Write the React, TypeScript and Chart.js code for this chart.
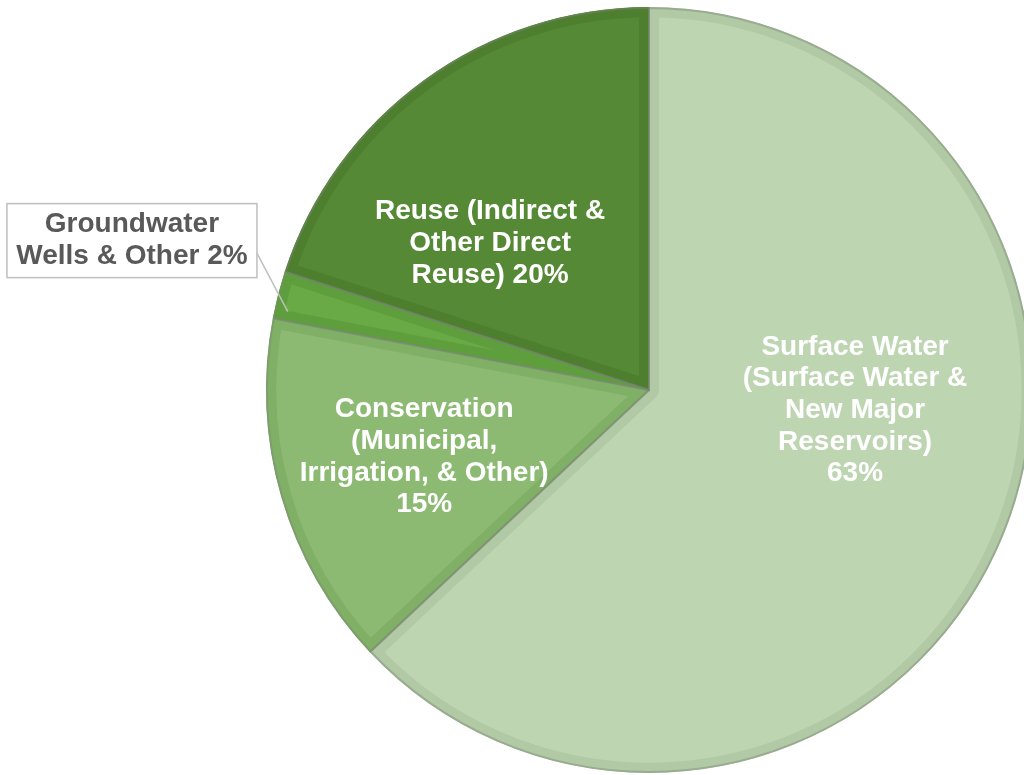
import React, { useEffect, useRef } from "react";
import { Chart, registerables } from "chart.js";

Chart.register(...registerables);

const categories = [
  "Surface Water (Surface Water & New Major Reservoirs)",
  "Conservation (Municipal, Irrigation, & Other)",
  "Groundwater Wells & Other",
  "Reuse (Indirect & Other Direct Reuse)",
];
const shares = [63, 15, 2, 20];
const labelLines = [
  ["Surface Water", "(Surface Water &", "New Major", "Reservoirs)", "{p}"],
  ["Conservation", "(Municipal,", "Irrigation, & Other)", "{p}"],
  ["Groundwater", "Wells & Other {p}"],
  ["Reuse (Indirect &", "Other Direct", "Reuse) {p}"],
];

const fillColors = ["#BED5B2", "#8DBA73", "#6AAA46", "#558935"];
const bandColors = ["#B1C9A4", "#80AF66", "#5E9E3D", "#4D7F2F"];

// label centres, in units of the pie radius from the pie centre
const labelOffsets = [
  { fx: 0.538, fy: 0.053 },
  { fx: -0.587, fy: 0.175 },
  { fx: -1.35, fy: -0.39 },
  { fx: -0.415, fy: -0.383 },
];

const FONT = 'bold 28px "Liberation Sans", Arial, sans-serif';
const LINE_H = 31.7;

const labelPlugin = {
  id: "sliceLabels",
  afterDatasetsDraw(chart: any) {
    const ctx = chart.ctx;
    const meta = chart.getDatasetMeta(0);
    // thin separating outlines
    ctx.save();
    meta.data.forEach((arc: any) => {
      const p = arc.getProps(["x", "y", "startAngle", "endAngle", "outerRadius"], true);
      ctx.beginPath();
      ctx.moveTo(p.x, p.y);
      ctx.arc(p.x, p.y, p.outerRadius - 1, p.startAngle, p.endAngle);
      ctx.closePath();
      ctx.lineWidth = 2;
      ctx.strokeStyle = "rgba(125,135,120,0.45)";
      ctx.lineJoin = "round";
      ctx.stroke();
    });
    ctx.restore();

    ctx.save();
    ctx.font = FONT;
    ctx.textAlign = "center";
    ctx.textBaseline = "middle";
    meta.data.forEach((arc: any, i: number) => {
      const p = arc.getProps(["x", "y", "startAngle", "endAngle", "outerRadius"], true);
      const r = p.outerRadius;
      const cx = p.x + labelOffsets[i].fx * r;
      const cy = p.y + labelOffsets[i].fy * r;
      const lines = labelLines[i].map((l) => l.replace("{p}", shares[i] + "%"));
      const top = cy - ((lines.length - 1) * LINE_H) / 2;
      const outside = i === 2;
      if (outside) {
        const bw = 250;
        const bh = 74;
        const bx = cx - bw / 2;
        const by = cy - bh / 2;
        ctx.fillStyle = "#FFFFFF";
        ctx.fillRect(bx, by, bw, bh);
        ctx.strokeStyle = "#BFBFBF";
        ctx.lineWidth = 1.5;
        ctx.strokeRect(bx, by, bw, bh);
        const a = p.startAngle + (p.endAngle - p.startAngle) * 0.2;
        const ex = p.x + Math.cos(a) * r * 0.965;
        const ey = p.y + Math.sin(a) * r * 0.965;
        ctx.beginPath();
        ctx.moveTo(bx + bw, by + bh * 0.67);
        ctx.lineTo(ex, ey);
        ctx.stroke();
        ctx.fillStyle = "#595959";
      } else {
        ctx.fillStyle = "#FFFFFF";
      }
      lines.forEach((line, k) => {
        ctx.fillText(line, cx, top + k * LINE_H);
      });
    });
    ctx.restore();
  },
};

export default function App() {
  const ref = useRef<HTMLCanvasElement>(null);
  useEffect(() => {
    if (!ref.current) return;
    const chart = new Chart(ref.current, {
      type: "pie",
      data: {
        labels: categories,
        datasets: [
          {
            data: shares,
            backgroundColor: fillColors,
            borderColor: bandColors,
            borderWidth: 10,
            borderAlign: "inner",
            radius: 383,
            clip: false,
          } as any,
        ],
      },
      options: {
        responsive: false,
        animation: false,
        layout: { padding: { left: 274, right: 0, top: 5, bottom: 0 } },
        plugins: {
          legend: { display: false },
          tooltip: { enabled: false },
        },
      },
      plugins: [labelPlugin],
    });
    return () => chart.destroy();
  }, []);
  return (
    <div
      style={{
        position: "fixed",
        left: 0,
        top: 0,
        width: 1024,
        height: 775,
        background: "#FFFFFF",
        overflow: "hidden",
      }}
    >
      <canvas ref={ref} width={1024} height={775} />
    </div>
  );
}
